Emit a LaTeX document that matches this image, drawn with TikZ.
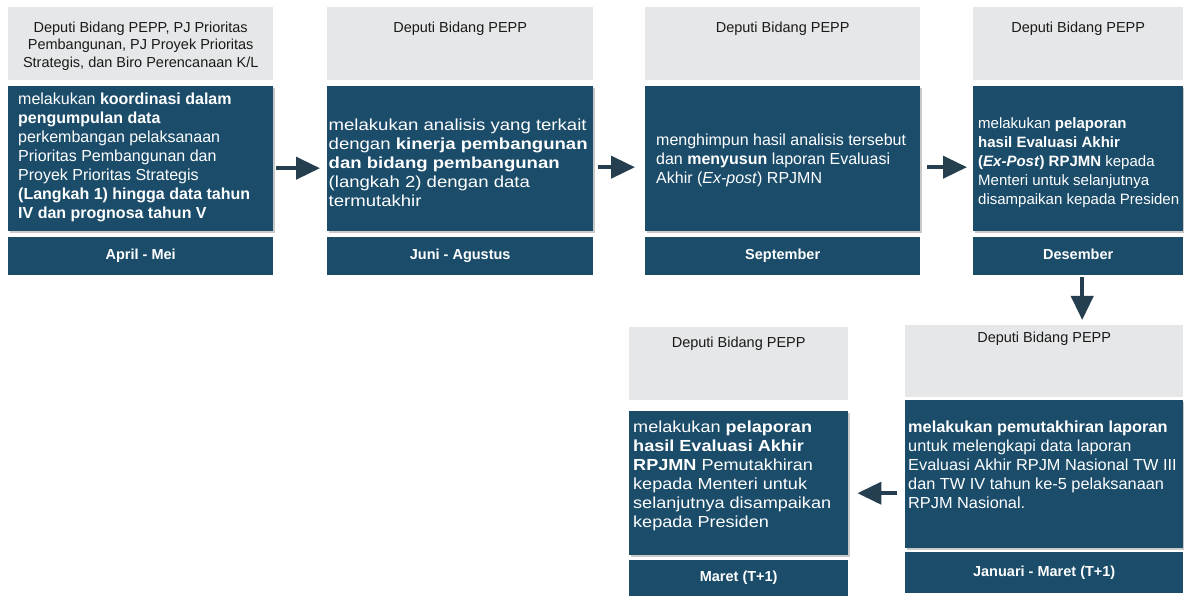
\documentclass[tikz,border=0pt]{standalone}
\usepackage{fontspec}
\setmainfont{Liberation Sans}
\newfontfamily\wideB[FakeStretch=1.16]{Liberation Sans}
\newfontfamily\wideE[FakeStretch=1.02]{Liberation Sans}
\newfontfamily\wideF[FakeStretch=1.13]{Liberation Sans}
\usetikzlibrary{arrows.meta,shadows}
\definecolor{dk}{HTML}{1B4D6B}
\definecolor{hd}{HTML}{E6E7E8}
\definecolor{ar}{HTML}{263F50}
\definecolor{ht}{HTML}{1A1A1A}
\begin{document}
\begin{tikzpicture}[x=1pt,y=-1pt,
 hdrbox/.style={fill=hd, anchor=north west, inner sep=0pt, draw=none},
 hdrtext/.style={anchor=north, align=center, text=ht, inner sep=0pt, font=\fontsize{14.5}{17.5}\selectfont},
 dkbox/.style={fill=dk, anchor=north west, inner sep=0pt,
   drop shadow={shadow xshift=1.5pt,shadow yshift=-1.5pt,fill=black!35,opacity=0.6}},
 dktext/.style={anchor=west, text=white, align=left, inner sep=0pt},
 datebox/.style={fill=dk, anchor=north west, text=white, inner sep=0pt, text height=10.5pt, text depth=3pt,
   font=\bfseries\fontsize{14.5}{17}\selectfont},
 flow/.style={draw=ar, line width=4pt, -{Triangle[length=24pt,width=22pt]}},
]
\useasboundingbox[fill=white] (0,0) rectangle (1184,596);

% ---------- column 1
\node[hdrbox, minimum width=265, minimum height=73] (h1) at (8,7) {};
\node[hdrtext] (h1t) at ([yshift=-14.5pt]h1.north) {Deputi Bidang PEPP, PJ Prioritas\\Pembangunan, PJ Proyek Prioritas\\Strategis, dan Biro Perencanaan K/L};
\node[dkbox, minimum width=265, minimum height=145] (d1) at (8,86) {};
\node[dktext, font=\fontsize{16}{19}\selectfont] (d1t) at ([xshift=10pt,yshift=1pt]d1.west)
 {melakukan \textbf{koordinasi dalam}\\\textbf{pengumpulan data}\\perkembangan pelaksanaan\\Prioritas Pembangunan dan\\Proyek Prioritas Strategis\\\textbf{(Langkah 1) hingga data tahun}\\\textbf{IV dan prognosa tahun V}};
\node[datebox, minimum width=265, minimum height=38] (t1) at (8,237) {April - Mei};

% ---------- column 2
\node[hdrbox, minimum width=266, minimum height=73] (h2) at (327,7) {};
\node[hdrtext] (h2t) at ([yshift=-14.5pt]h2.north) {Deputi Bidang PEPP};
\node[dkbox, minimum width=266, minimum height=145] (d2) at (327,86) {};
\node[dktext, font=\wideB\fontsize{16}{19}\selectfont] (d2t) at ([xshift=1.5pt,yshift=-4pt]d2.west)
 {melakukan analisis yang terkait\\dengan \textbf{kinerja pembangunan}\\\textbf{dan bidang pembangunan}\\(langkah 2) dengan data\\termutakhir};
\node[datebox, minimum width=266, minimum height=38] (t2) at (327,237) {Juni - Agustus};

% ---------- column 3
\node[hdrbox, minimum width=275, minimum height=73] (h3) at (645,7) {};
\node[hdrtext] (h3t) at ([yshift=-14.5pt]h3.north) {Deputi Bidang PEPP};
\node[dkbox, minimum width=275, minimum height=145] (d3) at (645,86) {};
\node[dktext, font=\fontsize{16}{19}\selectfont] (d3t) at ([xshift=11pt,yshift=-1.5pt]d3.west)
 {menghimpun hasil analisis tersebut\\dan \textbf{menyusun} laporan Evaluasi\\Akhir (\textit{Ex-post}) RPJMN};
\node[datebox, minimum width=275, minimum height=38] (t3) at (645,237) {September};

% ---------- column 4
\node[hdrbox, minimum width=210, minimum height=73] (h4) at (973,7) {};
\node[hdrtext] (h4t) at ([yshift=-14.5pt]h4.north) {Deputi Bidang PEPP};
\node[dkbox, minimum width=210, minimum height=145] (d4) at (973,86) {};
\node[dktext, font=\fontsize{15}{19}\selectfont] (d4t) at ([xshift=5pt,yshift=-4pt]d4.west)
 {melakukan \textbf{pelaporan}\\\textbf{hasil Evaluasi Akhir}\\\textbf{(\textit{Ex-Post}) RPJMN} kepada\\Menteri untuk selanjutnya\\disampaikan kepada Presiden};
\node[datebox, minimum width=210, minimum height=38] (t4) at (973,237) {Desember};

% ---------- bottom right
\node[hdrbox, minimum width=278, minimum height=72] (h5) at (905,325) {};
\node[hdrtext] (h5t) at ([yshift=-6.5pt]h5.north) {Deputi Bidang PEPP};
\node[dkbox, minimum width=278, minimum height=148] (d5) at (905,400) {};
\node[dktext, font=\wideE\fontsize{16}{19}\selectfont] (d5t) at ([xshift=3pt,yshift=9pt]d5.west)
 {\textbf{melakukan pemutakhiran laporan}\\untuk melengkapi data laporan\\Evaluasi Akhir RPJM Nasional TW III\\dan TW IV tahun ke-5 pelaksanaan\\RPJM Nasional.};
\node[datebox, minimum width=278, minimum height=41] (t5) at (905,552) {Januari - Maret (T+1)};

% ---------- bottom middle
\node[hdrbox, minimum width=219, minimum height=73] (h6) at (629,327) {};
\node[hdrtext] (h6t) at ([yshift=-10pt]h6.north) {Deputi Bidang PEPP};
\node[dkbox, minimum width=219, minimum height=144] (d6) at (629,411) {};
\node[dktext, font=\wideF\fontsize{16}{19}\selectfont] (d6t) at ([xshift=4pt,yshift=7.5pt]d6.west)
 {melakukan \textbf{pelaporan}\\\textbf{hasil Evaluasi Akhir}\\\textbf{RPJMN} Pemutakhiran\\kepada Menteri untuk\\selanjutnya disampaikan\\kepada Presiden};
\node[datebox, minimum width=219, minimum height=36] (t6) at (629,560) {Maret (T+1)};

% ---------- connectors
\draw[flow, shorten <=3pt, shorten >=7pt] ([yshift=-9.5pt]d1.east) -- ([yshift=-9.5pt]d2.west);
\draw[flow, shorten <=5pt, shorten >=10pt] ([yshift=-8.5pt]d2.east) -- ([yshift=-8.5pt]d3.west);
\draw[flow, shorten <=7pt, shorten >=6pt] ([yshift=-8.5pt]d3.east) -- ([yshift=-8.5pt]d4.west);
\draw[flow, shorten <=2pt, shorten >=5pt] ([xshift=4pt]t4.south) -- ([xshift=4pt]t4.south |- h5.north);
\draw[flow, shorten <=8pt, shorten >=9pt] ([yshift=-19pt]d5.west) -- ([yshift=-19pt]d5.west -| d6.east);
\end{tikzpicture}
\end{document}
